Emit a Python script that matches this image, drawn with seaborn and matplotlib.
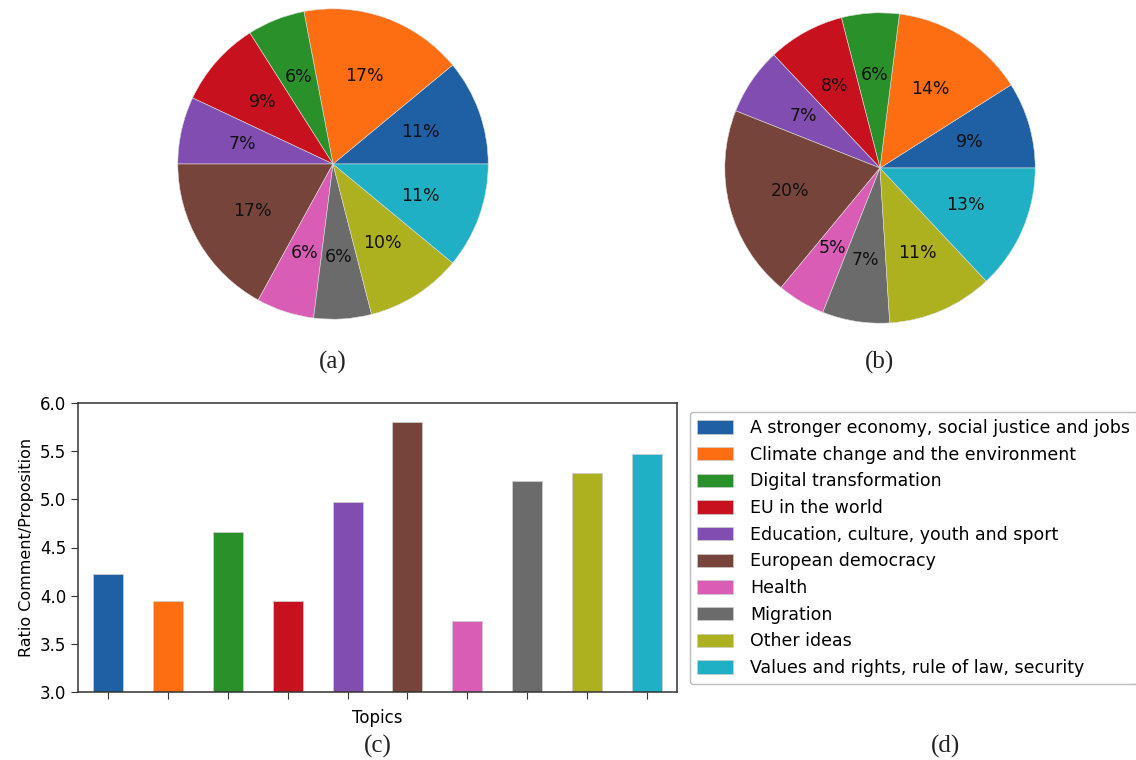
import numpy as np
import pandas as pd
import matplotlib
matplotlib.use("Agg")
import matplotlib.pyplot as plt
import seaborn as sns

# Topics (shared by all panels)
topics = [
    "A stronger economy, social justice and jobs",
    "Climate change and the environment",
    "Digital transformation",
    "EU in the world",
    "Education, culture, youth and sport",
    "European democracy",
    "Health",
    "Migration",
    "Other ideas",
    "Values and rights, rule of law, security",
]

# (a) share of propositions per topic (%)
share_a = [11, 17, 6, 9, 7, 17, 6, 6, 10, 11]
# (b) share of comments per topic (%)
share_b = [9, 14, 6, 8, 7, 20, 5, 7, 11, 13]
# (c) ratio comment / proposition
ratio = [4.23, 3.94, 4.66, 3.94, 4.97, 5.80, 3.74, 5.19, 5.27, 5.47]

colores = ["#1f5fa3", "#fd6d12", "#2a912a", "#c8111f", "#824db0",
           "#77443b", "#d95cb5", "#6b6b6b", "#adb11f", "#1fb0c5"]

plt.rcParams['font.family'] = ['DejaVu Sans']
W, H = 1136, 760
fig = plt.figure(figsize=(W / 100, H / 100), dpi=100)


def box(cx, cy, size):
    # axes box in figure fraction from pixel centre / size
    return [(cx - size / 2) / W, 1 - (cy + size / 2) / H, size / W, size / H]


# ─────────────────────────────────────────────
# Pies (a) y (b)
# ─────────────────────────────────────────────
for centro, valores in [((333, 164), share_a), ((880, 168), share_b)]:
    ax = fig.add_axes(box(centro[0], centro[1], 388))
    ax.pie(valores, colors=colores, autopct='%.0f%%', startangle=0,
           textprops={'fontsize': 12.5, 'color': '#111111'},
           wedgeprops={'edgecolor': '#dddddd', 'linewidth': 0.4})
    ax.set_aspect('equal')

# ─────────────────────────────────────────────
# Barras (c)
# ─────────────────────────────────────────────
df = pd.DataFrame({'topic': topics, 'ratio': ratio})
ax_bar = fig.add_axes([78 / W, 1 - 692 / H, 599 / W, 289 / H])
sns.barplot(data=df, x='topic', y='ratio', hue='topic', palette=colores,
            saturation=1, width=0.5, edgecolor='#cccccc', linewidth=0.6,
            dodge=False, legend=False, ax=ax_bar)
ax_bar.set_ylim(3.0, 6.0)
ax_bar.set_xlim(-0.5, 9.5)
ax_bar.set_yticks(np.arange(3.0, 6.01, 0.5))
ax_bar.set_yticklabels([f"{v:.1f}" for v in np.arange(3.0, 6.01, 0.5)], fontsize=12)
ax_bar.set_xticks(range(len(topics)))
ax_bar.set_xticklabels([])
ax_bar.tick_params(axis='both', length=5, color='#333333')
ax_bar.set_xlabel('Topics', fontsize=12, labelpad=4)
ax_bar.set_ylabel('Ratio Comment/Proposition', fontsize=11.5)
for s in ax_bar.spines.values():
    s.set_color('#333333')
    s.set_linewidth(1.1)

# ─────────────────────────────────────────────
# Leyenda (d)
# ─────────────────────────────────────────────
handles = [plt.Rectangle((0, 0), 1, 1, facecolor=c, edgecolor='#cccccc', linewidth=0.5)
           for c in colores]
fig.legend(handles, topics, loc='upper left',
           bbox_to_anchor=(690 / W, 1 - 412 / H), fontsize=12.5,
           handlelength=2.07, handleheight=0.8, handletextpad=1.0,
           labelspacing=0.5, borderaxespad=0, frameon=True,
           edgecolor='#aaaaaa', fancybox=True)

# Captions
cap = dict(family=['Liberation Serif', 'DejaVu Serif'], fontsize=18,
           ha='center', va='center', color='#222222')
fig.text(333 / W, 1 - 362 / H, '(a)', **cap)
fig.text(880 / W, 1 - 362 / H, '(b)', **cap)
fig.text(378 / W, 1 - 746 / H, '(c)', **cap)
fig.text(946 / W, 1 - 746 / H, '(d)', **cap)

fig.savefig('out.png', dpi=100)
